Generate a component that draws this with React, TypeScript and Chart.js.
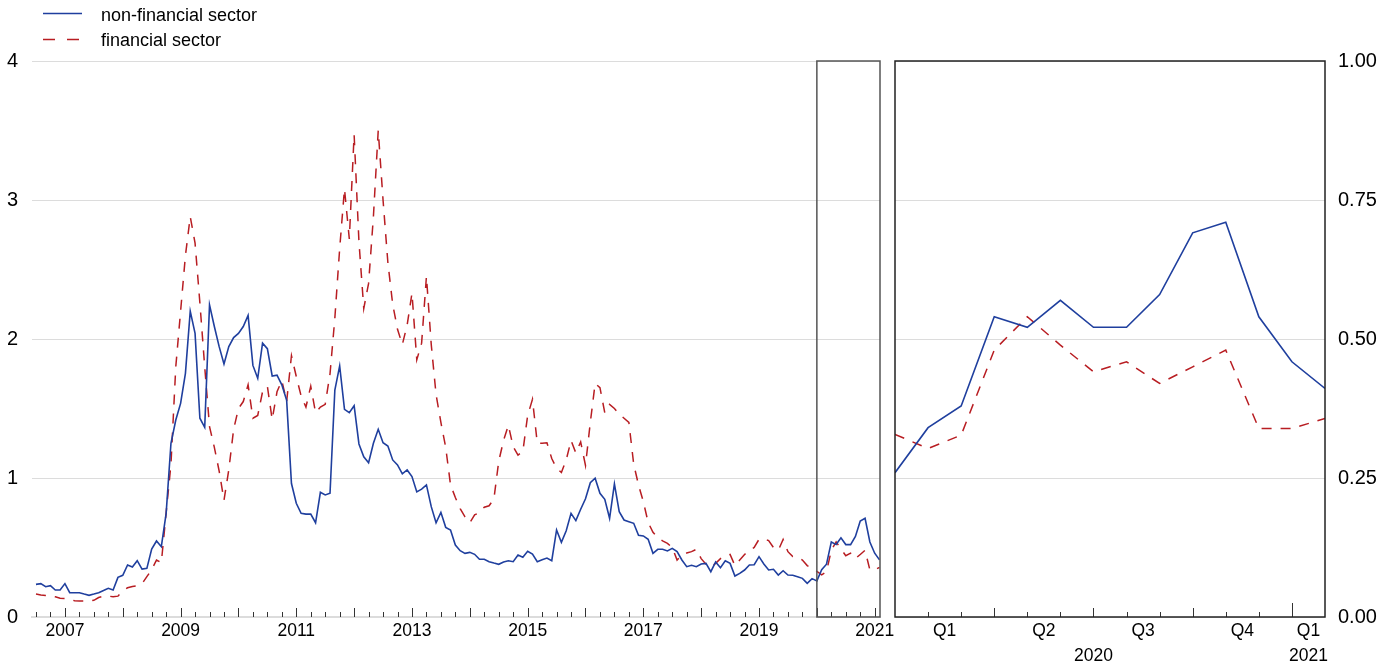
import React, { useEffect, useRef } from "react";
import { Chart, registerables } from "chart.js";

Chart.register(...registerables);

// Monthly data, July 2006 (index 0) to February 2021 (index 175)
const nonFinancial = [
  0.235, 0.24, 0.218, 0.225, 0.194, 0.194,
  0.24, 0.175, 0.175, 0.175, 0.165, 0.156,
  0.165, 0.175, 0.19, 0.206, 0.194, 0.285,
  0.3, 0.374, 0.36, 0.405, 0.345, 0.35,
  0.489, 0.547, 0.506, 0.746, 1.25, 1.417,
  1.537, 1.753, 2.2, 2.04, 1.43, 1.365,
  2.245, 2.09, 1.945, 1.82, 1.945, 2.01,
  2.04, 2.09, 2.17, 1.81, 1.717, 1.97,
  1.93, 1.734, 1.74, 1.67, 1.56, 0.96,
  0.818, 0.746, 0.74, 0.74, 0.678, 0.897,
  0.878, 0.89, 1.633, 1.806, 1.494, 1.47,
  1.52, 1.245, 1.153, 1.11, 1.25, 1.35,
  1.254, 1.23, 1.13, 1.094, 1.03, 1.058,
  1.01, 0.9, 0.92, 0.95, 0.794, 0.678,
  0.753, 0.645, 0.626, 0.518, 0.477, 0.458,
  0.465, 0.451, 0.415, 0.415, 0.398, 0.388,
  0.379, 0.396, 0.405, 0.398, 0.446, 0.43,
  0.473, 0.453, 0.398, 0.412, 0.424, 0.405,
  0.626, 0.537, 0.62, 0.746, 0.693, 0.775,
  0.851, 0.966, 0.998, 0.89, 0.847, 0.71,
  0.957, 0.758, 0.698, 0.686, 0.674, 0.588,
  0.583, 0.559, 0.458, 0.487, 0.487, 0.475,
  0.494, 0.47, 0.41, 0.362, 0.372, 0.362,
  0.381, 0.386, 0.326, 0.396, 0.355, 0.405,
  0.386, 0.295, 0.314, 0.338, 0.374, 0.376,
  0.434, 0.381, 0.338, 0.343, 0.302, 0.333,
  0.302, 0.3, 0.29, 0.278, 0.242, 0.276,
  0.2595, 0.3405, 0.3795, 0.54, 0.521, 0.5695,
  0.521, 0.521, 0.58, 0.691, 0.71, 0.54,
  0.459, 0.411,
];

const financial = [
  0.165, 0.158, 0.155, 0.153, 0.145, 0.135,
  0.133, 0.128, 0.117, 0.115, 0.115, 0.115,
  0.12, 0.14, 0.15, 0.15, 0.146, 0.15,
  0.19, 0.21, 0.22, 0.225, 0.24, 0.29,
  0.34, 0.41, 0.39, 0.75, 1.1, 1.8,
  2.2, 2.6, 2.88, 2.69, 2.26, 1.8,
  1.37, 1.22, 1.05, 0.84, 1.06, 1.35,
  1.5, 1.55, 1.67, 1.43, 1.45, 1.62,
  1.66, 1.42, 1.62, 1.7, 1.55, 1.88,
  1.73, 1.59, 1.51, 1.66, 1.47, 1.51,
  1.53, 1.75, 2.15, 2.65, 3.08, 2.72,
  3.47, 2.7, 2.22, 2.4, 2.88, 3.5,
  3.0, 2.55, 2.25, 2.07, 1.96, 2.1,
  2.33, 1.85, 1.97, 2.45, 1.96, 1.6,
  1.4, 1.22, 0.95, 0.86, 0.78, 0.72,
  0.678, 0.735, 0.75, 0.79, 0.8, 0.85,
  1.12, 1.27, 1.38, 1.225, 1.165, 1.19,
  1.45, 1.566, 1.25, 1.25, 1.254, 1.14,
  1.07, 1.04, 1.13, 1.27, 1.18, 1.26,
  1.09, 1.4, 1.68, 1.65, 1.47, 1.53,
  1.5, 1.46, 1.43, 1.4, 1.1, 0.95,
  0.83, 0.68, 0.61, 0.57, 0.547, 0.53,
  0.5, 0.41, 0.446, 0.46, 0.47, 0.487,
  0.42, 0.38, 0.36, 0.386, 0.42, 0.44,
  0.45, 0.37, 0.41, 0.45, 0.48, 0.5,
  0.559, 0.559, 0.55, 0.5, 0.48, 0.558,
  0.47, 0.435, 0.43, 0.41, 0.37, 0.35,
  0.3285, 0.303, 0.327, 0.48, 0.54, 0.489,
  0.441, 0.459, 0.42, 0.45, 0.48, 0.339,
  0.339, 0.357,
];

const seriesNames = ["non-financial sector", "financial sector"];
const leftYearLabels = ["2007", "2009", "2011", "2013", "2015", "2017", "2019", "2021"];
const zoomStartIndex = 162; // January 2020
const quarterLabels = ["Q1", "Q2", "Q3", "Q4", "Q1"];
const quarterPositions = [1.5, 4.5, 7.5, 10.5, 12.5];
const zoomYearLabels = ["2020", "2021"];
const zoomYearPositions = [6, 12.5];

const BLUE = "#1f3f9e";
const RED = "#b81d22";
const FONT = '"Liberation Sans", Arial, sans-serif';
const GRID = "#dcdcdc";

const monthIndexOfYear = (y: number) => (y - 2006) * 12 - 6;

const leftPlugin = {
  id: "leftDecor",
  afterDraw(chart: any) {
    const { ctx, chartArea, scales } = chart;
    const x = scales.x;
    ctx.save();
    ctx.strokeStyle = "#333";
    ctx.lineWidth = 1;
    for (let i = 0; i < nonFinancial.length; i += 3) {
      const px = Math.round(x.getPixelForValue(i)) + 0.5;
      const len = (i - 6) % 12 === 0 ? 9 : 5;
      ctx.beginPath();
      ctx.moveTo(px, chartArea.bottom);
      ctx.lineTo(px, chartArea.bottom - len);
      ctx.stroke();
    }
    const bx = x.getPixelForValue(zoomStartIndex);
    ctx.strokeStyle = "#555";
    ctx.lineWidth = 1.5;
    ctx.strokeRect(bx, chartArea.top, chartArea.right - bx, chartArea.bottom - chartArea.top);
    ctx.restore();
  },
};

const rightPlugin = {
  id: "rightDecor",
  afterDraw(chart: any) {
    const { ctx, chartArea, scales } = chart;
    const x = scales.x;
    ctx.save();
    ctx.strokeStyle = "#333";
    ctx.lineWidth = 1;
    for (let m = 1; m <= 12; m++) {
      const px = Math.round(x.getPixelForValue(m)) + 0.5;
      const len = m === 12 ? 14 : m % 3 === 0 ? 9 : 5;
      ctx.beginPath();
      ctx.moveTo(px, chartArea.bottom);
      ctx.lineTo(px, chartArea.bottom - len);
      ctx.stroke();
    }
    ctx.strokeStyle = "#222";
    ctx.lineWidth = 1.5;
    ctx.strokeRect(chartArea.left, chartArea.top, chartArea.right - chartArea.left, chartArea.bottom - chartArea.top);
    ctx.restore();
  },
};

export default function App() {
  const leftRef = useRef<HTMLCanvasElement | null>(null);
  const rightRef = useRef<HTMLCanvasElement | null>(null);

  useEffect(() => {
    const xFont = { family: FONT, size: 17.5, lineHeight: 1.4 };
    const yFont = { family: FONT, size: 20 };

    const leftTickValues = leftYearLabels.map((l) => monthIndexOfYear(Number(l)));
    const left = new Chart(leftRef.current as HTMLCanvasElement, {
      type: "line",
      data: {
        datasets: [
          {
            label: seriesNames[0],
            data: nonFinancial.map((v, i) => ({ x: i, y: v })),
            borderColor: BLUE,
            borderWidth: 1.6,
            pointRadius: 0,
            tension: 0,
          },
          {
            label: seriesNames[1],
            data: financial.map((v, i) => ({ x: i, y: v })),
            borderColor: RED,
            borderWidth: 1.5,
            borderDash: [10, 9],
            pointRadius: 0,
            tension: 0,
          },
        ],
      },
      options: {
        animation: false,
        responsive: false,
        maintainAspectRatio: false,
        layout: { padding: { top: 61, right: 20, left: 0, bottom: 0 } },
        plugins: { legend: { display: false }, tooltip: { enabled: false } },
        scales: {
          x: {
            type: "linear",
            min: -0.83,
            max: 175.1,
            afterFit: (s: any) => {
              s.height = 49;
            },
            afterBuildTicks: (s: any) => {
              s.ticks = leftTickValues.map((v) => ({ value: v }));
            },
            ticks: {
              autoSkip: false,
              maxRotation: 0,
              padding: 2,
              color: "#000",
              font: xFont,
              callback: (_v: any, i: number) => leftYearLabels[i],
            },
            grid: { display: false, drawTicks: false },
            border: { display: true, color: GRID, width: 2 },
          },
          y: {
            min: 0,
            max: 4,
            afterFit: (s: any) => {
              s.width = 32;
            },
            ticks: { stepSize: 1, padding: 14, color: "#000", font: yFont },
            grid: { color: GRID, drawTicks: false },
            border: { display: false },
          },
        },
      },
      plugins: [leftPlugin],
    } as any);

    const zoomTicks = [
      ...quarterPositions.map((p, i) => ({ value: p, label: [quarterLabels[i]] as string[] })),
    ];
    zoomYearPositions.forEach((p, i) => {
      const existing = zoomTicks.find((t) => t.value === p);
      if (existing) existing.label = [existing.label[0], zoomYearLabels[i]];
      else zoomTicks.push({ value: p, label: ["", zoomYearLabels[i]] });
    });
    zoomTicks.sort((a, b) => a.value - b.value);

    const zoomNF = nonFinancial.slice(zoomStartIndex);
    const zoomF = financial.slice(zoomStartIndex);
    const right = new Chart(rightRef.current as HTMLCanvasElement, {
      type: "line",
      data: {
        datasets: [
          {
            label: seriesNames[0],
            data: zoomNF.map((v, i) => ({ x: i, y: v })),
            borderColor: BLUE,
            borderWidth: 1.6,
            pointRadius: 0,
            tension: 0,
          },
          {
            label: seriesNames[1],
            data: zoomF.map((v, i) => ({ x: i, y: v })),
            borderColor: RED,
            borderWidth: 1.5,
            borderDash: [10, 9],
            pointRadius: 0,
            tension: 0,
          },
        ],
      },
      options: {
        animation: false,
        responsive: false,
        maintainAspectRatio: false,
        layout: { padding: { top: 61, right: 0, left: 25, bottom: 0 } },
        plugins: { legend: { display: false }, tooltip: { enabled: false } },
        scales: {
          x: {
            type: "linear",
            min: 0,
            max: 13,
            afterFit: (s: any) => {
              s.height = 49;
            },
            afterBuildTicks: (s: any) => {
              s.ticks = zoomTicks.map((t) => ({ value: t.value }));
            },
            ticks: {
              autoSkip: false,
              maxRotation: 0,
              padding: 2,
              color: "#000",
              font: xFont,
              callback: (_v: any, i: number) => zoomTicks[i].label,
            },
            grid: { display: false, drawTicks: false },
            border: { display: false },
          },
          y: {
            position: "right",
            min: 0,
            max: 1,
            afterFit: (s: any) => {
              s.width = 72;
            },
            ticks: {
              stepSize: 0.25,
              padding: 13,
              color: "#000",
              font: yFont,
              callback: (v: any) => Number(v).toFixed(2),
            },
            grid: { color: GRID, drawTicks: false },
            border: { display: false },
          },
        },
      },
      plugins: [rightPlugin],
    } as any);

    return () => {
      left.destroy();
      right.destroy();
    };
  }, []);

  return (
    <div style={{ position: "absolute", left: 0, top: 0, width: 1397, height: 666, background: "#fff", fontFamily: FONT }}>
      <canvas
        ref={leftRef}
        width={900}
        height={666}
        style={{ position: "absolute", left: 0, top: 0, width: 900, height: 666 }}
      />
      <canvas
        ref={rightRef}
        width={527}
        height={666}
        style={{ position: "absolute", left: 870, top: 0, width: 527, height: 666 }}
      />
      <svg width={100} height={50} style={{ position: "absolute", left: 0, top: 0 }}>
        <line x1={43} y1={13.5} x2={82} y2={13.5} stroke={BLUE} strokeWidth={1.5} />
        <line x1={43} y1={39.5} x2={79} y2={39.5} stroke={RED} strokeWidth={1.5} strokeDasharray="12 12" />
      </svg>
      <div style={{ position: "absolute", left: 101, top: 5.5, fontSize: 18, lineHeight: "18px", whiteSpace: "nowrap", color: "#000" }}>
        {seriesNames[0]}
      </div>
      <div style={{ position: "absolute", left: 101, top: 31, fontSize: 18, lineHeight: "18px", whiteSpace: "nowrap", color: "#000" }}>
        {seriesNames[1]}
      </div>
    </div>
  );
}
